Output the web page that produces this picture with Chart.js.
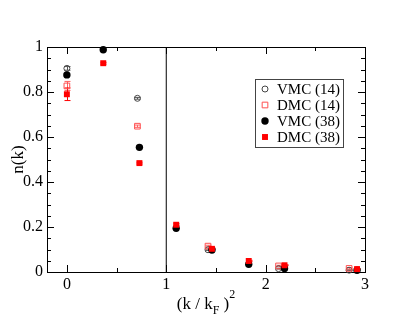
<!DOCTYPE html>
<html>
<head>
<meta charset="utf-8">
<style>
  html, body { margin: 0; padding: 0; background: #fff; }
  #wrap { width: 415px; height: 321px; }
</style>
<script src="https://cdn.jsdelivr.net/npm/chart.js@4.4.0/dist/chart.umd.min.js"></script>
</head>
<body>
<div id="wrap"><canvas id="nk-canvas"></canvas></div>
<script>
// Momentum distribution n(k) vs (k/kF)^2, VMC and DMC for N=14 and N=38.

const seriesLabels = ['VMC (14)', 'DMC (14)', 'VMC (38)', 'DMC (38)'];

const kN14 = [0, 0.71, 1.42, 2.13, 2.84];
const vmc14 = [0.905, 0.772, 0.099, 0.015, 0.008];
const vmc14Err = [0.008, 0.004, 0.003, 0.002, 0.002];
const dmc14 = [0.827, 0.648, 0.115, 0.027, 0.016];
const dmc14Err = [0.02, 0.005, 0.004, 0.003, 0.003];

const kN38 = [0, 0.366, 0.73, 1.1, 1.46, 1.83, 2.19, 2.92];
const vmc38 = [0.876, 0.988, 0.554, 0.194, 0.098, 0.034, 0.016, 0.008];
const dmc38 = [0.79, 0.928, 0.484, 0.21, 0.103, 0.049, 0.03, 0.013];
const dmc38Err = [0.028, 0.004, 0.004, 0.004, 0.003, 0.003, 0.002, 0.002];

// kF marker
const dividerX = [1, 1];
const dividerY = [0, 1];

const xMajor = [0, 1, 2, 3];
const xMinor = [0.5, 1.5, 2.5];
const yMajor = [0, 0.2, 0.4, 0.6, 0.8, 1];
const yMinor = [0.05, 0.1, 0.15, 0.25, 0.3, 0.35, 0.45, 0.5, 0.55, 0.65, 0.7, 0.75, 0.85, 0.9, 0.95];

const serif = '"Liberation Serif", "DejaVu Serif", serif';

function pts(xs, ys) {
  return xs.map((x, i) => ({ x, y: ys[i] }));
}

// error bars, frame with inward ticks, x title, legend box
const decor = {
  id: 'decor',
  beforeDatasetsDraw(chart) {
    const { ctx, chartArea: a, scales: { x, y } } = chart;
    ctx.save();
    ctx.strokeStyle = '#000';
    ctx.lineWidth = 1;
    ctx.strokeRect(Math.round(a.left) + 0.5, Math.round(a.top) + 0.5,
      Math.round(a.right - a.left), Math.round(a.bottom - a.top));
    ctx.beginPath();
    const tick = (vals, len) => {
      vals.forEach((v) => {
        const px = Math.round(x.getPixelForValue(v)) + 0.5;
        ctx.moveTo(px, a.bottom); ctx.lineTo(px, a.bottom - len);
        ctx.moveTo(px, a.top); ctx.lineTo(px, a.top + len);
      });
    };
    const ytick = (vals, len) => {
      vals.forEach((v) => {
        const py = Math.round(y.getPixelForValue(v)) + 0.5;
        ctx.moveTo(a.left, py); ctx.lineTo(a.left + len, py);
        ctx.moveTo(a.right, py); ctx.lineTo(a.right - len, py);
      });
    };
    tick(xMajor, 7); tick(xMinor, 4);
    ytick(yMajor, 7); ytick(yMinor, 4);
    ctx.stroke();

    chart.data.datasets.forEach((ds) => {
      if (!ds.errors) return;
      ctx.strokeStyle = ds.errColor;
      ctx.beginPath();
      ds.data.forEach((p, i) => {
        const e = ds.errors[i];
        const px = Math.round(x.getPixelForValue(p.x)) + 0.5;
        const y1 = y.getPixelForValue(p.y - e);
        const y2 = y.getPixelForValue(p.y + e);
        ctx.moveTo(px, y1); ctx.lineTo(px, y2);
        ctx.moveTo(px - 3, y1); ctx.lineTo(px + 3, y1);
        ctx.moveTo(px - 3, y2); ctx.lineTo(px + 3, y2);
      });
      ctx.stroke();
    });
    ctx.restore();
  },
  afterDraw(chart) {
    const { ctx, chartArea: a } = chart;
    ctx.save();
    ctx.fillStyle = '#000';
    ctx.textBaseline = 'alphabetic';
    // x title: (k / kF)^2
    const big = '17px ' + serif, small = '12px ' + serif;
    ctx.font = big;
    const w1 = ctx.measureText('(k / k').width;
    const w3 = ctx.measureText(' )').width;
    ctx.font = small;
    const w2 = ctx.measureText('F').width;
    const w4 = ctx.measureText('2').width;
    let tx = (a.left + a.right) / 2 - (w1 + w2 + w3 + w4) / 2;
    const base = 309;
    ctx.font = big; ctx.fillText('(k / k', tx, base); tx += w1;
    ctx.font = small; ctx.fillText('F', tx, base + 5); tx += w2;
    ctx.font = big; ctx.fillText(' )', tx, base); tx += w3;
    ctx.font = small; ctx.fillText('2', tx, base - 11);

    // legend
    const bx = a.right - 110, by = a.top + 32, bw = 88, bh = 68;
    ctx.fillStyle = '#fff';
    ctx.fillRect(bx, by, bw, bh);
    ctx.strokeStyle = '#444';
    ctx.lineWidth = 1;
    ctx.strokeRect(bx + 0.5, by + 0.5, bw, bh);
    ctx.font = '15px ' + serif;
    ctx.textBaseline = 'middle';
    chart.data.datasets.filter((d) => d.inLegend).forEach((ds, i) => {
      const cy = by + 10 + i * 16;
      ctx.fillStyle = ds.pointBackgroundColor;
      ctx.strokeStyle = ds.pointBorderColor;
      ctx.lineWidth = ds.pointBorderWidth;
      ctx.beginPath();
      if (ds.pointStyle === 'circle') {
        ctx.arc(bx + 10, cy, ds.pointRadius, 0, Math.PI * 2);
      } else {
        const s = ds.pointRadius * Math.SQRT1_2;
        ctx.rect(bx + 10 - s, cy - s, 2 * s, 2 * s);
      }
      ctx.fill();
      if (ds.pointBorderWidth) ctx.stroke();
      ctx.fillStyle = '#000';
      ctx.fillText(ds.label, bx + 22, cy + 1);
    });
    ctx.restore();
  },
};

new Chart(document.getElementById('nk-canvas'), {
  type: 'scatter',
  data: {
    datasets: [
      {
        label: seriesLabels[0], data: pts(kN14, vmc14), errors: vmc14Err, errColor: '#555',
        pointStyle: 'circle', pointRadius: 3, pointBorderWidth: 1,
        pointBackgroundColor: 'rgba(255,255,255,0)', pointBorderColor: '#444',
        order: 4, clip: false, inLegend: true,
      },
      {
        label: seriesLabels[1], data: pts(kN14, dmc14), errors: dmc14Err, errColor: '#ff6060',
        pointStyle: 'rect', pointRadius: 4, pointBorderWidth: 1,
        pointBackgroundColor: 'rgba(255,255,255,0)', pointBorderColor: '#ff5050',
        order: 3, clip: false, inLegend: true,
      },
      {
        label: seriesLabels[2], data: pts(kN38, vmc38),
        pointStyle: 'circle', pointRadius: 3.7, pointBorderWidth: 0,
        pointBackgroundColor: '#000', pointBorderColor: '#000',
        order: 2, clip: false, inLegend: true,
      },
      {
        label: seriesLabels[3], data: pts(kN38, dmc38), errors: dmc38Err, errColor: '#ff0000',
        pointStyle: 'rect', pointRadius: 4.2, pointBorderWidth: 0,
        pointBackgroundColor: '#ff0000', pointBorderColor: '#ff0000',
        order: 1, clip: false, inLegend: true,
      },
      {
        type: 'line', label: 'kF', data: pts(dividerX, dividerY),
        borderColor: '#000', borderWidth: 1, pointRadius: 0, order: 5,
      },
    ],
  },
  options: {
    responsive: true,
    maintainAspectRatio: false,
    animation: false,
    layout: { padding: { top: 47, right: 50, left: 0, bottom: 0 } },
    plugins: { legend: { display: false }, tooltip: { enabled: false } },
    scales: {
      x: {
        type: 'linear', min: -0.2, max: 3,
        grid: { display: false, drawTicks: false }, border: { display: false },
        afterBuildTicks: (s) => { s.ticks = xMajor.map((v) => ({ value: v })); },
        afterFit: (s) => { s.height = 49; },
        ticks: {
          color: '#000', padding: 3, maxRotation: 0, autoSkip: false,
          font: { family: serif, size: 16 }, callback: (v) => String(v),
        },
      },
      y: {
        type: 'linear', min: 0, max: 1,
        grid: { display: false, drawTicks: false }, border: { display: false },
        afterBuildTicks: (s) => { s.ticks = yMajor.map((v) => ({ value: v })); },
        afterFit: (s) => { s.width = 47; },
        ticks: {
          color: '#000', padding: 4, autoSkip: false,
          font: { family: serif, size: 16 },
          callback: (v) => (v === 0 || v === 1 ? String(v) : v.toFixed(1)),
        },
        title: {
          display: true, text: 'n(k)', color: '#000',
          font: { family: serif, size: 17 }, padding: { top: 8, bottom: 0 },
        },
      },
    },
  },
  plugins: [decor],
});
</script>
</body>
</html>
